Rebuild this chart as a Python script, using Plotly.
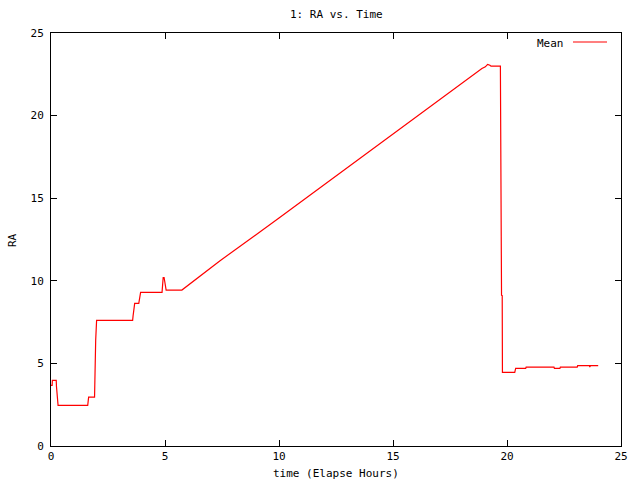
import plotly.graph_objects as go

# Data
time_hours = [0.0, 0.05, 0.06, 0.23, 0.24, 0.27, 0.31, 1.61, 1.65, 1.91, 1.92, 1.96, 2.0,
              3.58, 3.6, 3.64, 3.67, 3.85, 3.93, 4.87, 4.89, 4.92, 4.96, 5.0, 5.05, 5.74,
              7.4, 10.0, 12.5, 15.0, 17.5, 18.9, 19.05, 19.15, 19.25, 19.3, 19.71, 19.72,
              19.75, 19.76, 19.79, 19.8, 20.34, 20.36, 20.38, 20.82, 20.84, 22.06, 22.08,
              22.32, 22.34, 23.08, 23.1, 23.62, 23.63, 23.66, 24.0]
ra_mean = [3.67, 3.67, 3.97, 3.97, 3.6, 2.86, 2.46, 2.46, 2.96, 2.96, 4.13, 6.41, 7.6,
           7.6, 7.88, 8.33, 8.63, 8.63, 9.3, 9.3, 9.75, 10.2, 10.2, 9.8, 9.44, 9.44,
           11.2, 13.8, 16.35, 18.9, 21.45, 22.85, 22.95, 23.1, 23.05, 22.99, 22.99, 18.35,
           18.3, 9.13, 9.1, 4.46, 4.46, 4.6, 4.7, 4.7, 4.78, 4.78, 4.7,
           4.7, 4.78, 4.78, 4.86, 4.86, 4.78, 4.86, 4.86]

series_name = "Mean"
x_ticks = [0, 5, 10, 15, 20, 25]
y_ticks = [0, 5, 10, 15, 20, 25]

FONT = "DejaVu Sans Mono"

fig = go.Figure()
fig.add_trace(go.Scatter(x=time_hours, y=ra_mean, mode="lines", name=series_name,
                         line=dict(color="#ff0000", width=1.2), showlegend=False))

L, R, T, B = 51, 19, 33, 34
W, H = 640, 480
pw = W - L - R
ph = H - T - B

def px_x(px):
    return (px - L) / pw

def px_y(py):
    return (H - B - py) / ph

axis_common = dict(showgrid=False, zeroline=False, showline=True, linecolor="black",
                   linewidth=1, mirror="allticks", ticks="inside", ticklen=6,
                   tickcolor="black", tickwidth=1,
                   tickfont=dict(family=FONT, size=11, color="black"))

fig.update_xaxes(range=[0, 25], tickvals=x_ticks, ticktext=[str(v) for v in x_ticks],
                 **axis_common)
fig.update_yaxes(range=[0, 25], tickvals=y_ticks, ticktext=[str(v) for v in y_ticks],
                 ticklabelstandoff=4, **axis_common)

fig.update_layout(
    width=W, height=H,
    margin=dict(l=L, r=R, t=T, b=B, pad=0, autoexpand=False),
    paper_bgcolor="white", plot_bgcolor="white",
    showlegend=False,
    font=dict(family=FONT, size=11, color="black"),
    annotations=[
        dict(text="1: RA vs. Time", xref="paper", yref="paper", x=0.5, y=px_y(15),
             xanchor="center", yanchor="middle", showarrow=False,
             font=dict(family=FONT, size=11, color="black")),
        dict(text="time (Elapse Hours)", xref="paper", yref="paper", x=0.5, y=px_y(473),
             xanchor="center", yanchor="middle", showarrow=False,
             font=dict(family=FONT, size=11, color="black")),
        dict(text="RA", xref="paper", yref="paper", x=px_x(12), y=px_y(240),
             xanchor="center", yanchor="middle", showarrow=False, textangle=-90,
             font=dict(family=FONT, size=11, color="black")),
        dict(text=series_name, xref="paper", yref="paper", x=px_x(566), y=px_y(43),
             xanchor="right", yanchor="middle", showarrow=False,
             font=dict(family=FONT, size=11, color="black")),
    ],
    shapes=[
        dict(type="line", xref="paper", yref="paper", x0=px_x(573), x1=px_x(607),
             y0=px_y(42), y1=px_y(42), line=dict(color="#ff0000", width=1.2)),
    ],
)

fig.write_html("out.html", config={"displayModeBar": False},
               post_script="document.body.style.margin='0';document.body.style.overflow='hidden';")
